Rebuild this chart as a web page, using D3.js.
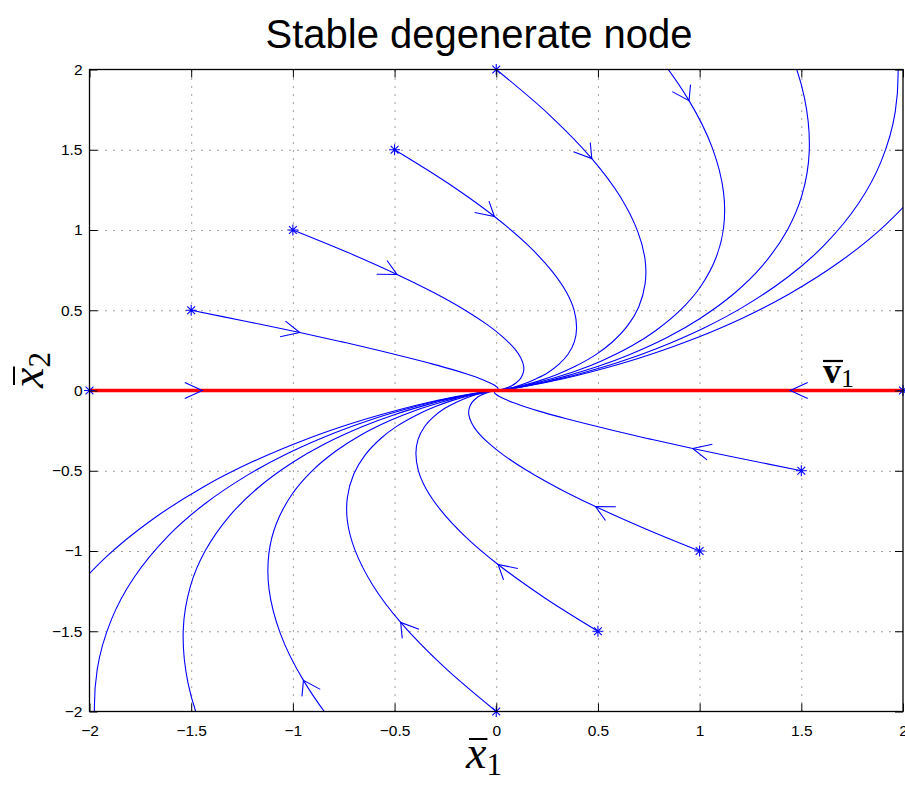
<!DOCTYPE html>
<html>
<head>
<meta charset="utf-8">
<script src="https://d3js.org/d3.v7.min.js"></script>
<style>
  body { margin: 0; background: #fff; }
  svg { display: block; }
</style>
</head>
<body>
<div id="main"></div>
<script>
const ctx = {
    W: 905, H: 789,
    LEFT: 89.5, RIGHT: 903, TOP: 69.5, BOTTOM: 711.5
};

const xTicks = [-2, -1.5, -1, -0.5, 0, 0.5, 1, 1.5, 2];
const xTickLabels = ["\u22122", "\u22121.5", "\u22121", "\u22120.5", "0", "0.5", "1", "1.5", "2"];
const yTicks = [-2, -1.5, -1, -0.5, 0, 0.5, 1, 1.5, 2];
const yTickLabels = ["\u22122", "\u22121.5", "\u22121", "\u22120.5", "0", "0.5", "1", "1.5", "2"];

// eigenvector direction v1 drawn along x2 = 0
const eigenLine = [[-2, 0], [2, 0]];

// trajectories, first point = initial condition (the * marker)
// upper family, starts on the line x2 = x1 + 2
const upper1 = [[-2,0],[-1.721,0],[-1.445,0],[-1.213,0],[-0.993,0],[-0.813,0],[-0.666,0],[-0.518,0],[-0.404,0],[-0.299,0],[-0.222,0],[-0.149,0],[-0.1,0],[-0.06,0],[-0.037,0],[-0.013,0],[-0.005,0],[-0.002,0]];
const upper2 = [[-1.5,0.5],[-1.227,0.43],[-0.966,0.361],[-0.758,0.303],[-0.571,0.248],[-0.427,0.203],[-0.316,0.166],[-0.214,0.13],[-0.141,0.101],[-0.082,0.075],[-0.044,0.055],[-0.015,0.037],[0,0.025],[0.008,0.015],[0.009,0.009],[0.007,0.003],[0.004,0.001],[0.002,0.001]];
const upper3 = [[-1,1],[-0.732,0.861],[-0.488,0.723],[-0.303,0.607],[-0.149,0.497],[-0.041,0.407],[0.033,0.333],[0.091,0.259],[0.121,0.202],[0.135,0.15],[0.133,0.111],[0.119,0.074],[0.1,0.05],[0.076,0.03],[0.055,0.018],[0.027,0.007],[0.012,0.002],[0.006,0.001]];
const upper4 = [[-0.5,1.5],[-0.237,1.291],[-0.009,1.084],[0.152,0.91],[0.273,0.745],[0.346,0.61],[0.383,0.499],[0.395,0.389],[0.384,0.303],[0.352,0.224],[0.31,0.166],[0.253,0.111],[0.199,0.075],[0.144,0.045],[0.101,0.027],[0.047,0.01],[0.021,0.004],[0.009,0.001]];
const upper5 = [[0,2],[0.258,1.721],[0.47,1.445],[0.607,1.213],[0.695,0.993],[0.732,0.813],[0.732,0.666],[0.7,0.519],[0.646,0.404],[0.568,0.299],[0.488,0.222],[0.386,0.149],[0.299,0.1],[0.211,0.06],[0.147,0.037],[0.067,0.013],[0.03,0.005],[0.013,0.002]];
const upper6 = [[0.5,2.5],[0.753,2.152],[0.948,1.806],[1.061,1.516],[1.117,1.241],[1.118,1.016],[1.082,0.832],[1.005,0.648],[0.909,0.505],[0.785,0.374],[0.665,0.277],[0.52,0.186],[0.398,0.124],[0.279,0.076],[0.192,0.046],[0.088,0.017],[0.038,0.006],[0.016,0.002]];
const upper7 = [[1,3],[1.248,2.582],[1.427,2.168],[1.516,1.82],[1.539,1.49],[1.504,1.22],[1.431,0.999],[1.309,0.778],[1.171,0.606],[1.002,0.449],[0.842,0.332],[0.654,0.223],[0.498,0.149],[0.347,0.091],[0.238,0.055],[0.108,0.02],[0.047,0.007],[0.02,0.003]];
const upper8 = [[1.5,3.5],[1.743,3.013],[1.906,2.529],[1.971,2.123],[1.962,1.738],[1.891,1.423],[1.781,1.165],[1.614,0.907],[1.434,0.707],[1.219,0.524],[1.019,0.388],[0.787,0.26],[0.598,0.174],[0.415,0.106],[0.284,0.064],[0.128,0.024],[0.056,0.009],[0.024,0.003]];
const upper9 = [[2,4],[2.238,3.443],[2.384,2.89],[2.426,2.426],[2.384,1.986],[2.277,1.626],[2.13,1.332],[1.918,1.037],[1.696,0.808],[1.436,0.598],[1.197,0.443],[0.921,0.297],[0.697,0.199],[0.483,0.121],[0.33,0.073],[0.148,0.027],[0.065,0.01],[0.027,0.004]];

// lower family, starts on the line x2 = x1 - 2
const lower1 = [[2,0],[1.721,0],[1.445,0],[1.213,0],[0.993,0],[0.813,0],[0.666,0],[0.518,0],[0.404,0],[0.299,0],[0.222,0],[0.149,0],[0.1,0],[0.06,0],[0.037,0],[0.013,0],[0.005,0],[0.002,0]];
const lower2 = [[1.5,-0.5],[1.227,-0.43],[0.966,-0.361],[0.758,-0.303],[0.571,-0.248],[0.427,-0.203],[0.316,-0.166],[0.214,-0.13],[0.141,-0.101],[0.082,-0.075],[0.044,-0.055],[0.015,-0.037],[0,-0.025],[-0.008,-0.015],[-0.009,-0.009],[-0.007,-0.003],[-0.004,-0.001],[-0.002,-0.001]];
const lower3 = [[1,-1],[0.732,-0.861],[0.488,-0.723],[0.303,-0.607],[0.149,-0.497],[0.041,-0.407],[-0.033,-0.333],[-0.091,-0.259],[-0.121,-0.202],[-0.135,-0.15],[-0.133,-0.111],[-0.119,-0.074],[-0.1,-0.05],[-0.076,-0.03],[-0.055,-0.018],[-0.027,-0.007],[-0.012,-0.002],[-0.006,-0.001]];
const lower4 = [[0.5,-1.5],[0.237,-1.291],[0.009,-1.084],[-0.152,-0.91],[-0.273,-0.745],[-0.346,-0.61],[-0.383,-0.499],[-0.395,-0.389],[-0.384,-0.303],[-0.352,-0.224],[-0.31,-0.166],[-0.253,-0.111],[-0.199,-0.075],[-0.144,-0.045],[-0.101,-0.027],[-0.047,-0.01],[-0.021,-0.004],[-0.009,-0.001]];
const lower5 = [[0,-2],[-0.258,-1.721],[-0.47,-1.445],[-0.607,-1.213],[-0.695,-0.993],[-0.732,-0.813],[-0.732,-0.666],[-0.7,-0.519],[-0.646,-0.404],[-0.568,-0.299],[-0.488,-0.222],[-0.386,-0.149],[-0.299,-0.1],[-0.211,-0.06],[-0.147,-0.037],[-0.067,-0.013],[-0.03,-0.005],[-0.013,-0.002]];
const lower6 = [[-0.5,-2.5],[-0.753,-2.152],[-0.948,-1.806],[-1.061,-1.516],[-1.117,-1.241],[-1.118,-1.016],[-1.082,-0.832],[-1.005,-0.648],[-0.909,-0.505],[-0.785,-0.374],[-0.665,-0.277],[-0.52,-0.186],[-0.398,-0.124],[-0.279,-0.076],[-0.192,-0.046],[-0.088,-0.017],[-0.038,-0.006],[-0.016,-0.002]];
const lower7 = [[-1,-3],[-1.248,-2.582],[-1.427,-2.168],[-1.516,-1.82],[-1.539,-1.49],[-1.504,-1.22],[-1.431,-0.999],[-1.309,-0.778],[-1.171,-0.606],[-1.002,-0.449],[-0.842,-0.332],[-0.654,-0.223],[-0.498,-0.149],[-0.347,-0.091],[-0.238,-0.055],[-0.108,-0.02],[-0.047,-0.007],[-0.02,-0.003]];
const lower8 = [[-1.5,-3.5],[-1.743,-3.013],[-1.906,-2.529],[-1.971,-2.123],[-1.962,-1.738],[-1.891,-1.423],[-1.781,-1.165],[-1.614,-0.907],[-1.434,-0.707],[-1.219,-0.524],[-1.019,-0.388],[-0.787,-0.26],[-0.598,-0.174],[-0.415,-0.106],[-0.284,-0.064],[-0.128,-0.024],[-0.056,-0.009],[-0.024,-0.003]];
const lower9 = [[-2,-4],[-2.238,-3.443],[-2.384,-2.89],[-2.426,-2.426],[-2.384,-1.986],[-2.277,-1.626],[-2.13,-1.332],[-1.918,-1.037],[-1.696,-0.808],[-1.436,-0.598],[-1.197,-0.443],[-0.921,-0.297],[-0.697,-0.199],[-0.483,-0.121],[-0.33,-0.073],[-0.148,-0.027],[-0.065,-0.01],[-0.027,-0.004]];

const trajectories = [upper1, upper2, upper3, upper4, upper5, upper6, upper7, upper8, upper9,
                      lower1, lower2, lower3, lower4, lower5, lower6, lower7, lower8, lower9];
const arrowIndex = 2;   // sample that carries the direction arrow

function inView(p) {
    return p[0] >= -2 && p[0] <= 2 && p[1] >= -2 && p[1] <= 2;
}

function mathLabel(parent, o) {
    const t = parent.append("text")
        .attr("x", 0).attr("y", 0)
        .style("font-family", '"Liberation Serif", "Times New Roman", serif')
        .style("font-size", o.size + "px")
        .style("font-style", o.italic ? "italic" : "normal")
        .style("font-weight", o.bold ? "bold" : "normal")
        .style("fill", "#000");
    t.append("tspan").text(o.base);
    t.append("tspan")
        .attr("dy", o.subDy)
        .style("font-size", o.subSize + "px")
        .style("font-style", "normal")
        .style("font-weight", "normal")
        .text(o.sub);
    const b = t.node().getExtentOfChar(0);
    parent.append("line")
        .attr("x1", b.x + o.barIn[0]).attr("x2", b.x + b.width + o.barIn[1])
        .attr("y1", -o.barH).attr("y2", -o.barH)
        .attr("stroke", "#000").attr("stroke-width", o.barW);
}

function createViz() {
    const svg = d3.select("#main").append("svg")
        .attr("width", ctx.W).attr("height", ctx.H);

    const x = d3.scaleLinear().domain([-2, 2]).range([ctx.LEFT, ctx.RIGHT]);
    const y = d3.scaleLinear().domain([-2, 2]).range([ctx.BOTTOM, ctx.TOP]);
    const plotW = ctx.RIGHT - ctx.LEFT, plotH = ctx.BOTTOM - ctx.TOP;

    svg.append("defs").append("clipPath").attr("id", "plotClip")
        .append("rect")
        .attr("x", ctx.LEFT).attr("y", ctx.TOP)
        .attr("width", plotW).attr("height", plotH);

    // dotted grid
    const gridX = svg.append("g")
        .attr("transform", `translate(0,${ctx.BOTTOM})`)
        .call(d3.axisBottom(x).tickValues(xTicks.slice(1, -1)).tickSize(-plotH).tickFormat(""));
    const gridY = svg.append("g")
        .attr("transform", `translate(${ctx.LEFT},0)`)
        .call(d3.axisLeft(y).tickValues(yTicks.slice(1, -1)).tickSize(-plotW).tickFormat(""));
    [gridX, gridY].forEach(g => {
        g.select(".domain").remove();
        g.selectAll("line")
            .attr("stroke", "#444")
            .attr("stroke-width", 1)
            .attr("stroke-dasharray", "1,7");
    });

    const line = d3.line()
        .x(d => x(d[0]))
        .y(d => y(d[1]))
        .curve(d3.curveCatmullRom);

    const plot = svg.append("g").attr("clip-path", "url(#plotClip)");
    plot.selectAll("path.traj")
        .data(trajectories)
        .join("path")
        .attr("class", "traj")
        .attr("fill", "none")
        .attr("stroke", "#0000ff")
        .attr("stroke-width", 1.1)
        .attr("d", line);

    // eigenvector line
    svg.append("path")
        .datum(eigenLine)
        .attr("fill", "none")
        .attr("stroke", "#ff0000")
        .attr("stroke-width", 3.5)
        .attr("d", d3.line().x(d => x(d[0])).y(d => y(d[1])));

    // direction arrows (open heads, built in data units)
    const L = 0.1, ang = Math.PI / 6;
    const arrows = trajectories
        .map(tr => ({ tip: tr[arrowIndex], a: tr[arrowIndex - 1], b: tr[arrowIndex + 1] }))
        .filter(d => inView(d.tip));
    svg.selectAll("path.arrow")
        .data(arrows)
        .join("path")
        .attr("class", "arrow")
        .attr("fill", "none")
        .attr("stroke", "#0000ff")
        .attr("stroke-width", 1.1)
        .attr("d", d => {
            let dx = d.b[0] - d.a[0], dy = d.b[1] - d.a[1];
            const n = Math.hypot(dx, dy); dx /= n; dy /= n;
            const barb = s => [
                d.tip[0] - L * (dx * Math.cos(s * ang) - dy * Math.sin(s * ang)),
                d.tip[1] - L * (dx * Math.sin(s * ang) + dy * Math.cos(s * ang))
            ];
            const p1 = barb(1), p2 = barb(-1);
            return `M${x(p1[0])},${y(p1[1])}L${x(d.tip[0])},${y(d.tip[1])}L${x(p2[0])},${y(p2[1])}`;
        });

    // initial conditions (*)
    const r = 5.5, q = r * 0.71;
    const starts = trajectories.map(tr => tr[0]).filter(inView);
    svg.selectAll("path.star")
        .data(starts)
        .join("path")
        .attr("class", "star")
        .attr("fill", "none")
        .attr("stroke", "#0000ff")
        .attr("stroke-width", 1.1)
        .attr("transform", d => `translate(${x(d[0])},${y(d[1])})`)
        .attr("d", `M${-r},0H${r}M0,${-r}V${r}M${-q},${-q}L${q},${q}M${-q},${q}L${q},${-q}`);

    // axes, ticks inward on all four sides
    const ax = [
        svg.append("g").attr("transform", `translate(0,${ctx.BOTTOM})`)
            .call(d3.axisBottom(x).tickValues(xTicks).tickSizeInner(-8).tickSizeOuter(0).tickPadding(13)
                .tickFormat((d, i) => xTickLabels[i])),
        svg.append("g").attr("transform", `translate(${ctx.LEFT},0)`)
            .call(d3.axisLeft(y).tickValues(yTicks).tickSizeInner(-8).tickSizeOuter(0).tickPadding(7)
                .tickFormat((d, i) => yTickLabels[i])),
        svg.append("g").attr("transform", `translate(0,${ctx.TOP})`)
            .call(d3.axisTop(x).tickValues(xTicks).tickSizeInner(-8).tickSizeOuter(0).tickFormat("")),
        svg.append("g").attr("transform", `translate(${ctx.RIGHT},0)`)
            .call(d3.axisRight(y).tickValues(yTicks).tickSizeInner(-8).tickSizeOuter(0).tickFormat(""))
    ];
    ax.forEach(g => {
        g.select(".domain").remove();
        g.selectAll(".tick line").attr("stroke", "#000");
        g.selectAll(".tick text")
            .style("font-family", '"Liberation Sans", Arial, sans-serif')
            .style("font-size", "15.5px")
            .style("fill", "#000");
    });

    svg.append("rect")
        .attr("x", ctx.LEFT).attr("y", ctx.TOP)
        .attr("width", plotW).attr("height", plotH)
        .attr("fill", "none")
        .attr("stroke", "#000")
        .attr("stroke-width", 1.3);

    // title
    svg.append("text")
        .attr("x", 479).attr("y", 48)
        .attr("text-anchor", "middle")
        .style("font-family", '"Liberation Sans", Arial, sans-serif')
        .style("font-size", "40px")
        .style("fill", "#000")
        .text("Stable degenerate node");

    // axis labels
    mathLabel(svg.append("g").attr("transform", "translate(466,768)"),
        { base: "x", sub: "1", size: 46, subSize: 31, subDy: 7, italic: true,
          barH: 29, barIn: [3, 1], barW: 2 });
    mathLabel(svg.append("g").attr("transform", "translate(43,388) rotate(-90)"),
        { base: "x", sub: "2", size: 46, subSize: 31, subDy: 7, italic: true,
          barH: 29, barIn: [3, 1], barW: 2 });

    // eigenvector label
    mathLabel(svg.append("g").attr("transform", "translate(823,383)"),
        { base: "v", sub: "1", size: 36, subSize: 26, subDy: 4, bold: true,
          barH: 22, barIn: [0, 2], barW: 2.2 });
}

createViz();
</script>
</body>
</html>
